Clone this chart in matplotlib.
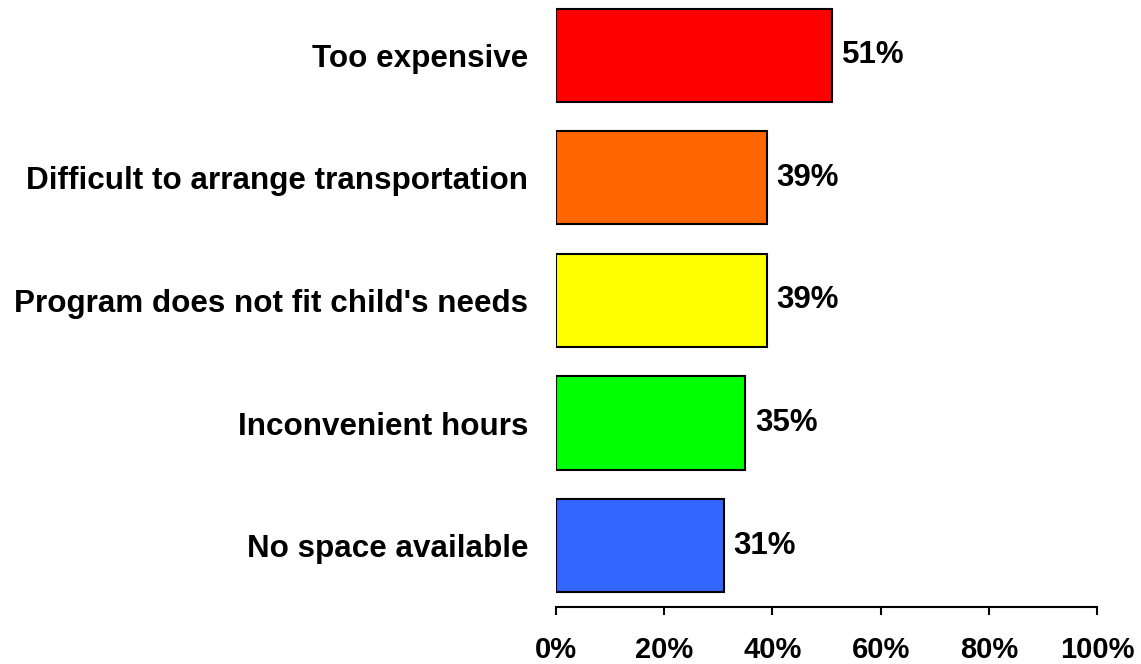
import matplotlib
matplotlib.use("Agg")
import matplotlib.pyplot as plt

# data, bottom to top
categories = ["No space available", "Inconvenient hours", "Program does not fit child's needs",
              "Difficult to arrange transportation", "Too expensive"]
values = [31, 35, 39, 39, 51]
colors = ["#3366FF", "#00FF00", "#FFFF00", "#FF6600", "#FF0000"]
xticks = [0, 20, 40, 60, 80, 100]
xtick_labels = ["0%", "20%", "40%", "60%", "80%", "100%"]

plt.rcParams['font.family'] = ['Liberation Sans', 'DejaVu Sans']
plt.rcParams['font.weight'] = 'bold'

W, H = 1141, 664
fig = plt.figure(figsize=(W / 100, H / 100), dpi=100)
ax = fig.add_axes([556 / W, (H - 607) / H, (1097 - 556) / W, 607 / H])

pos = list(range(len(categories)))
ax.barh(pos, values, height=0.76, color=colors, edgecolor="black", linewidth=1.5)

for y, v in zip(pos, values):
    ax.text(v + 1.8, y, "%d%%" % v, va="center", ha="left", fontsize=22.5, fontweight="bold")

ax.set_xlim(0, 100)
ax.set_ylim(-0.5, 4.45)
ax.set_xticks(xticks)
ax.set_xticklabels(xtick_labels, fontsize=21, fontweight="bold")
ax.set_yticks(pos)
ax.set_yticklabels(categories, fontsize=22.6, fontweight="bold")

ax.tick_params(axis="x", direction="out", length=6, width=1.5, pad=15)
ax.tick_params(axis="y", length=0, pad=20)
for s in ["left", "top", "right"]:
    ax.spines[s].set_visible(False)
ax.spines["bottom"].set_linewidth(1.5)

fig.savefig("out.png", dpi=100)
